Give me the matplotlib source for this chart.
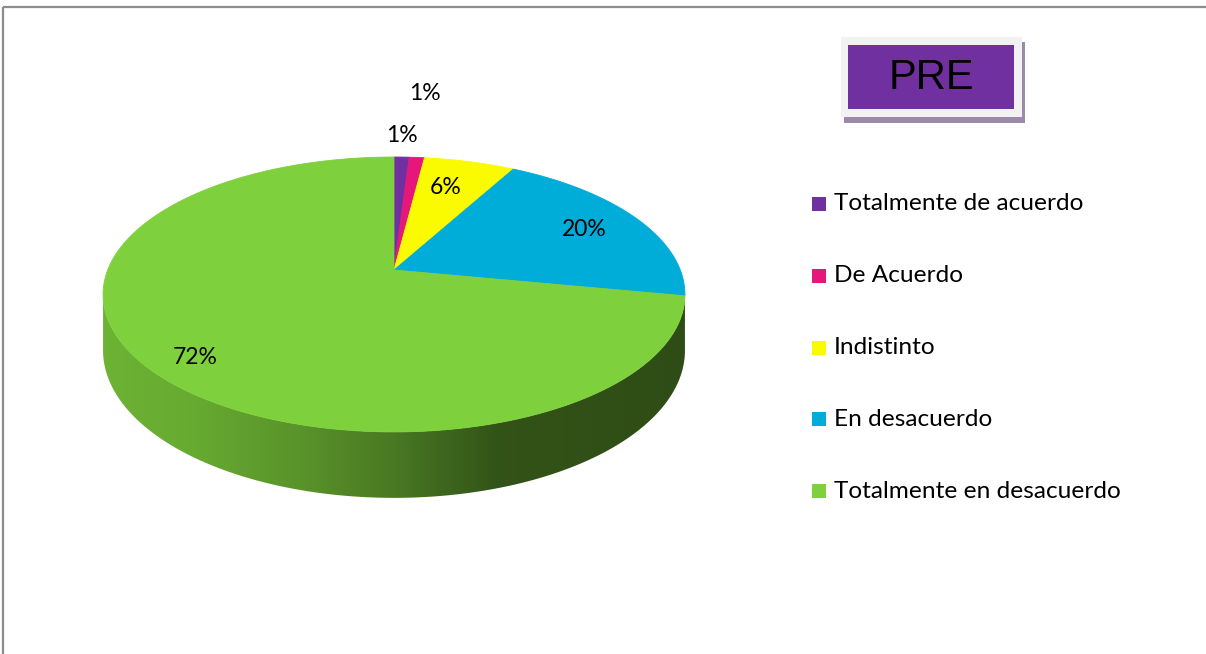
import numpy as np
import matplotlib
matplotlib.use("Agg")
import matplotlib.pyplot as plt
from matplotlib.patches import Polygon, Rectangle
from matplotlib.colors import to_rgb

# Survey responses (percent of respondents)
categories = ["Totalmente de acuerdo", "De Acuerdo", "Indistinto",
              "En desacuerdo", "Totalmente en desacuerdo"]
values = [1, 1, 6, 20, 72]
colors = ["#7030A0", "#E6177A", "#FAFA00", "#00ACD8", "#7ED03C"]
badge_text = "PRE"

W, H = 1206, 654
fig = plt.figure(figsize=(W / 100, H / 100), dpi=100)
ax = fig.add_axes([0, 0, 1, 1])
ax.set_xlim(0, W)
ax.set_ylim(H, 0)
ax.axis("off")

FONT = ["Lato", "DejaVu Sans"]

# Perspective projection of the pie disc (u = cos, v = sin; v > 0 is the back)
cx, cy = 394.0, 270.0
k = 0.178
a, b = 286.3, 133.1
thick = 54.2


def top_pt(theta):
    u, v = np.cos(theta), np.sin(theta)
    d = 1 + k * v
    return cx + a * u / d, cy - b * v / d


def bot_pt(theta):
    x, y = top_pt(theta)
    return x, y + thick / (1 + k * np.sin(theta))


# Slices run clockwise from 12 o'clock
total = float(sum(values))
bounds = [np.pi / 2]
for v in values:
    bounds.append(bounds[-1] - 2 * np.pi * v / total)

# Visible front wall spans between the two horizontal extremes
front_lo = -np.pi + np.arcsin(k)   # left extreme
front_hi = -np.arcsin(k)            # right extreme
x_left, _ = top_pt(front_lo)
x_right, _ = top_pt(front_hi)


def wall_shade(color):
    r, g, bb = to_rgb(color)
    xs = np.linspace(0, 1, 256)
    f = np.interp(xs, [0, 0.15, 0.35, 0.5, 0.68, 1.0],
                  [0.86, 0.82, 0.70, 0.58, 0.40, 0.37])
    img = np.zeros((2, 256, 3))
    for i, c in enumerate((r, g, bb)):
        img[:, :, i] = np.clip(c * f, 0, 1)
    return img


for i, col in enumerate(colors):
    hi, lo = bounds[i], bounds[i + 1]
    # map slice range to the front angle window, trying full-turn shifts
    for shift in (0, -2 * np.pi, 2 * np.pi):
        s_hi, s_lo = hi + shift, lo + shift
        w_hi = min(s_hi, front_hi)
        w_lo = max(s_lo, front_lo)
        if w_hi <= w_lo:
            continue
        th = np.linspace(w_lo, w_hi, 200)
        tx, ty = top_pt(th)
        bx, by = bot_pt(th)
        pts = np.column_stack([np.concatenate([tx, bx[::-1]]),
                               np.concatenate([ty, by[::-1]])])
        poly = Polygon(pts, closed=True, facecolor="none", edgecolor="none")
        ax.add_patch(poly)
        im = ax.imshow(wall_shade(col), extent=(x_left, x_right, 520, 250),
                       aspect="auto", interpolation="bilinear", zorder=1)
        im.set_clip_path(poly)

# Top face wedges
for i, col in enumerate(colors):
    hi, lo = bounds[i], bounds[i + 1]
    th = np.linspace(hi, lo, max(8, int(400 * (hi - lo) / (2 * np.pi))))
    tx, ty = top_pt(th)
    pts = np.column_stack([np.concatenate([[cx], tx]),
                           np.concatenate([[cy], ty])])
    ax.add_patch(Polygon(pts, closed=True, facecolor=col, edgecolor=col,
                         linewidth=0.6, zorder=2))

# Percentage labels
label_pos = [(425, 93), (402, 136), (446, 187), (584, 229), (195, 357)]
for v, (lx, ly) in zip(values, label_pos):
    ax.text(lx, ly, f"{v}%", ha="center", va="center", fontsize=16.5,
            family=FONT, color="black", zorder=5)

# Legend
leg_y = [203.5, 275.5, 347.5, 419, 491]
for name, col, y in zip(categories, colors, leg_y):
    ax.add_patch(Rectangle((812, y - 7), 14, 14, facecolor=col,
                           edgecolor="none", zorder=5))
    ax.text(834, y, name, ha="left", va="center", fontsize=17.6,
            family=FONT, color="black", zorder=5)

# Title badge
ax.add_patch(Rectangle((844, 42), 181, 81, facecolor="#9C8AA8",
                       edgecolor="none", zorder=5))
ax.add_patch(Rectangle((841, 37), 181, 80, facecolor="#F2F2F2",
                       edgecolor="none", zorder=6))
ax.add_patch(Rectangle((848, 45), 166, 64, facecolor="#7030A0",
                       edgecolor="none", zorder=7))
ax.text(931, 78, badge_text, ha="center", va="center", fontsize=30,
        family=["Liberation Sans", "DejaVu Sans"], color="black", zorder=8)

# Chart frame (top and left edges)
ax.plot([3, W], [7, 7], color="#8C8C8C", linewidth=1.6, zorder=9,
        solid_capstyle="butt")
ax.plot([3, 3], [7, H], color="#8C8C8C", linewidth=1.6, zorder=9,
        solid_capstyle="butt")

fig.savefig("out.png", dpi=100)
